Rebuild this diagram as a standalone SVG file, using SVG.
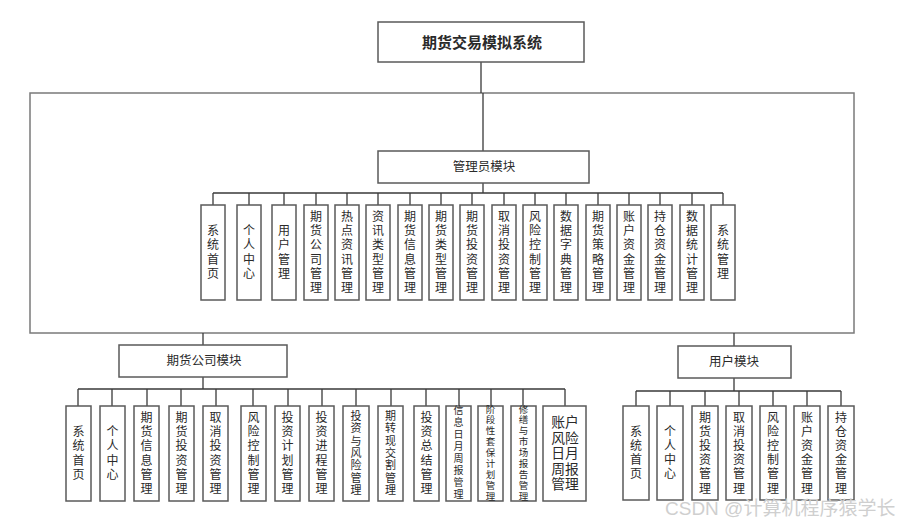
<svg xmlns="http://www.w3.org/2000/svg" width="903" height="524" viewBox="0 0 903 524">
<style>
.bx{fill:#fff;stroke:#5a5a5a;stroke-width:1.5}
.fr{fill:none;stroke:#7a7a7a;stroke-width:1.5}
.ln{fill:none;stroke:#3a3a3a;stroke-width:1.3}
text{font-family:"Liberation Sans","Noto Sans CJK SC",sans-serif;fill:#2a2a2a;text-anchor:middle;dominant-baseline:central}
.t1{font-size:15px;font-weight:600}
.t2{font-size:12.5px}
.c{font-size:12px}
.m{font-size:11px}
.s{font-size:10px}
.xs{font-size:9.5px}
.w{font-size:13.8px}
.wm{font-size:19px;fill:#cfcfcf;text-anchor:start}
</style>
<rect class="fr" x="30" y="93" width="824" height="240"/>
<g id="connectors">
<path class="ln" d="M481 62V93M483 93V151M483 183V193M213 193H723M213 193V205M249 193V205M284 193V205M316 193V205M347 193V205M378 193V205M410 193V205M441 193V205M472 193V205M504 193V205M535 193V205M566 193V205M598 193V205M629 193V205M660 193V205M692 193V205M723 193V205"/>
<path class="ln" d="M203 333V345M203 377V389M78 389H565M78 389V406M112 389V406M147 389V406M181 389V406M216 389V406M253 389V406M288 389V406M322 389V406M356 389V406M391 389V406M426 389V406M459 389V406M491 389V406M523 389V406M565 389V406"/>
<path class="ln" d="M734 333V346M734 378V391M636 391H841M636 391V406M670 391V406M705 391V406M739 391V406M773 391V406M807 391V406M841 391V406"/>
</g>
<g id="root"><rect class="bx" x="378" y="22" width="206" height="40"/><text class="t1" x="482" y="42">期货交易模拟系统</text></g>
<g id="admin"><rect class="bx" x="378" y="151" width="211" height="32"/><text class="t2" x="484" y="167">管理员模块</text></g>
<g id="company"><rect class="bx" x="119" y="345" width="168" height="32"/><text class="t2" x="204" y="361">期货公司模块</text></g>
<g id="user"><rect class="bx" x="678" y="346" width="113" height="32"/><text class="t2" x="734" y="362">用户模块</text></g>

<g id="a1"><rect class="bx" x="201" y="205" width="24" height="95"/><text class="c"><tspan x="213" y="231.2">系</tspan><tspan x="213" y="245.4">统</tspan><tspan x="213" y="259.6">首</tspan><tspan x="213" y="273.8">页</tspan></text></g>
<g id="a2"><rect class="bx" x="237" y="205" width="24" height="95"/><text class="c"><tspan x="249" y="231.2">个</tspan><tspan x="249" y="245.4">人</tspan><tspan x="249" y="259.6">中</tspan><tspan x="249" y="273.8">心</tspan></text></g>
<g id="a3"><rect class="bx" x="272" y="205" width="24" height="95"/><text class="c"><tspan x="284" y="231.2">用</tspan><tspan x="284" y="245.4">户</tspan><tspan x="284" y="259.6">管</tspan><tspan x="284" y="273.8">理</tspan></text></g>
<g id="a4"><rect class="bx" x="304" y="205" width="24" height="95"/><text class="c"><tspan x="316" y="217">期</tspan><tspan x="316" y="231.2">货</tspan><tspan x="316" y="245.4">公</tspan><tspan x="316" y="259.6">司</tspan><tspan x="316" y="273.8">管</tspan><tspan x="316" y="288">理</tspan></text></g>
<g id="a5"><rect class="bx" x="335" y="205" width="24" height="95"/><text class="c"><tspan x="347" y="217">热</tspan><tspan x="347" y="231.2">点</tspan><tspan x="347" y="245.4">资</tspan><tspan x="347" y="259.6">讯</tspan><tspan x="347" y="273.8">管</tspan><tspan x="347" y="288">理</tspan></text></g>
<g id="a6"><rect class="bx" x="366" y="205" width="24" height="95"/><text class="c"><tspan x="378" y="217">资</tspan><tspan x="378" y="231.2">讯</tspan><tspan x="378" y="245.4">类</tspan><tspan x="378" y="259.6">型</tspan><tspan x="378" y="273.8">管</tspan><tspan x="378" y="288">理</tspan></text></g>
<g id="a7"><rect class="bx" x="398" y="205" width="24" height="95"/><text class="c"><tspan x="410" y="217">期</tspan><tspan x="410" y="231.2">货</tspan><tspan x="410" y="245.4">信</tspan><tspan x="410" y="259.6">息</tspan><tspan x="410" y="273.8">管</tspan><tspan x="410" y="288">理</tspan></text></g>
<g id="a8"><rect class="bx" x="429" y="205" width="24" height="95"/><text class="c"><tspan x="441" y="217">期</tspan><tspan x="441" y="231.2">货</tspan><tspan x="441" y="245.4">类</tspan><tspan x="441" y="259.6">型</tspan><tspan x="441" y="273.8">管</tspan><tspan x="441" y="288">理</tspan></text></g>
<g id="a9"><rect class="bx" x="460" y="205" width="24" height="95"/><text class="c"><tspan x="472" y="217">期</tspan><tspan x="472" y="231.2">货</tspan><tspan x="472" y="245.4">投</tspan><tspan x="472" y="259.6">资</tspan><tspan x="472" y="273.8">管</tspan><tspan x="472" y="288">理</tspan></text></g>
<g id="a10"><rect class="bx" x="492" y="205" width="24" height="95"/><text class="c"><tspan x="504" y="217">取</tspan><tspan x="504" y="231.2">消</tspan><tspan x="504" y="245.4">投</tspan><tspan x="504" y="259.6">资</tspan><tspan x="504" y="273.8">管</tspan><tspan x="504" y="288">理</tspan></text></g>
<g id="a11"><rect class="bx" x="523" y="205" width="24" height="95"/><text class="c"><tspan x="535" y="217">风</tspan><tspan x="535" y="231.2">险</tspan><tspan x="535" y="245.4">控</tspan><tspan x="535" y="259.6">制</tspan><tspan x="535" y="273.8">管</tspan><tspan x="535" y="288">理</tspan></text></g>
<g id="a12"><rect class="bx" x="554" y="205" width="24" height="95"/><text class="c"><tspan x="566" y="217">数</tspan><tspan x="566" y="231.2">据</tspan><tspan x="566" y="245.4">字</tspan><tspan x="566" y="259.6">典</tspan><tspan x="566" y="273.8">管</tspan><tspan x="566" y="288">理</tspan></text></g>
<g id="a13"><rect class="bx" x="586" y="205" width="24" height="95"/><text class="c"><tspan x="598" y="217">期</tspan><tspan x="598" y="231.2">货</tspan><tspan x="598" y="245.4">策</tspan><tspan x="598" y="259.6">略</tspan><tspan x="598" y="273.8">管</tspan><tspan x="598" y="288">理</tspan></text></g>
<g id="a14"><rect class="bx" x="617" y="205" width="24" height="95"/><text class="c"><tspan x="629" y="217">账</tspan><tspan x="629" y="231.2">户</tspan><tspan x="629" y="245.4">资</tspan><tspan x="629" y="259.6">金</tspan><tspan x="629" y="273.8">管</tspan><tspan x="629" y="288">理</tspan></text></g>
<g id="a15"><rect class="bx" x="648" y="205" width="24" height="95"/><text class="c"><tspan x="660" y="217">持</tspan><tspan x="660" y="231.2">仓</tspan><tspan x="660" y="245.4">资</tspan><tspan x="660" y="259.6">金</tspan><tspan x="660" y="273.8">管</tspan><tspan x="660" y="288">理</tspan></text></g>
<g id="a16"><rect class="bx" x="680" y="205" width="24" height="95"/><text class="c"><tspan x="692" y="217">数</tspan><tspan x="692" y="231.2">据</tspan><tspan x="692" y="245.4">统</tspan><tspan x="692" y="259.6">计</tspan><tspan x="692" y="273.8">管</tspan><tspan x="692" y="288">理</tspan></text></g>
<g id="a17"><rect class="bx" x="711" y="205" width="24" height="95"/><text class="c"><tspan x="723" y="231.2">系</tspan><tspan x="723" y="245.4">统</tspan><tspan x="723" y="259.6">管</tspan><tspan x="723" y="273.8">理</tspan></text></g>

<g id="c1"><rect class="bx" x="66" y="406" width="25" height="95"/><text class="c"><tspan x="78.5" y="432.2">系</tspan><tspan x="78.5" y="446.4">统</tspan><tspan x="78.5" y="460.6">首</tspan><tspan x="78.5" y="474.8">页</tspan></text></g>
<g id="c2"><rect class="bx" x="100" y="406" width="25" height="95"/><text class="c"><tspan x="112.5" y="432.2">个</tspan><tspan x="112.5" y="446.4">人</tspan><tspan x="112.5" y="460.6">中</tspan><tspan x="112.5" y="474.8">心</tspan></text></g>
<g id="c3"><rect class="bx" x="134" y="406" width="25" height="95"/><text class="c"><tspan x="146.5" y="418">期</tspan><tspan x="146.5" y="432.2">货</tspan><tspan x="146.5" y="446.4">信</tspan><tspan x="146.5" y="460.6">息</tspan><tspan x="146.5" y="474.8">管</tspan><tspan x="146.5" y="489">理</tspan></text></g>
<g id="c4"><rect class="bx" x="169" y="406" width="25" height="95"/><text class="c"><tspan x="181.5" y="418">期</tspan><tspan x="181.5" y="432.2">货</tspan><tspan x="181.5" y="446.4">投</tspan><tspan x="181.5" y="460.6">资</tspan><tspan x="181.5" y="474.8">管</tspan><tspan x="181.5" y="489">理</tspan></text></g>
<g id="c5"><rect class="bx" x="203" y="406" width="25" height="95"/><text class="c"><tspan x="215.5" y="418">取</tspan><tspan x="215.5" y="432.2">消</tspan><tspan x="215.5" y="446.4">投</tspan><tspan x="215.5" y="460.6">资</tspan><tspan x="215.5" y="474.8">管</tspan><tspan x="215.5" y="489">理</tspan></text></g>
<g id="c6"><rect class="bx" x="241" y="406" width="25" height="95"/><text class="c"><tspan x="253.5" y="418">风</tspan><tspan x="253.5" y="432.2">险</tspan><tspan x="253.5" y="446.4">控</tspan><tspan x="253.5" y="460.6">制</tspan><tspan x="253.5" y="474.8">管</tspan><tspan x="253.5" y="489">理</tspan></text></g>
<g id="c7"><rect class="bx" x="275" y="406" width="25" height="95"/><text class="c"><tspan x="287.5" y="418">投</tspan><tspan x="287.5" y="432.2">资</tspan><tspan x="287.5" y="446.4">计</tspan><tspan x="287.5" y="460.6">划</tspan><tspan x="287.5" y="474.8">管</tspan><tspan x="287.5" y="489">理</tspan></text></g>
<g id="c8"><rect class="bx" x="309" y="406" width="25" height="95"/><text class="c"><tspan x="321.5" y="418">投</tspan><tspan x="321.5" y="432.2">资</tspan><tspan x="321.5" y="446.4">进</tspan><tspan x="321.5" y="460.6">程</tspan><tspan x="321.5" y="474.8">管</tspan><tspan x="321.5" y="489">理</tspan></text></g>
<g id="c9"><rect class="bx" x="343" y="406" width="26" height="95"/><text class="m"><tspan x="356" y="416">投</tspan><tspan x="356" y="428.3">资</tspan><tspan x="356" y="440.6">与</tspan><tspan x="356" y="452.9">风</tspan><tspan x="356" y="465.2">险</tspan><tspan x="356" y="477.5">管</tspan><tspan x="356" y="489.8">理</tspan></text></g>
<g id="c10"><rect class="bx" x="378" y="406" width="25" height="95"/><text class="m"><tspan x="390.5" y="416">期</tspan><tspan x="390.5" y="428.3">转</tspan><tspan x="390.5" y="440.6">现</tspan><tspan x="390.5" y="452.9">交</tspan><tspan x="390.5" y="465.2">割</tspan><tspan x="390.5" y="477.5">管</tspan><tspan x="390.5" y="489.8">理</tspan></text></g>
<g id="c11"><rect class="bx" x="414" y="406" width="25" height="95"/><text class="c"><tspan x="426.5" y="418">投</tspan><tspan x="426.5" y="432.2">资</tspan><tspan x="426.5" y="446.4">总</tspan><tspan x="426.5" y="460.6">结</tspan><tspan x="426.5" y="474.8">管</tspan><tspan x="426.5" y="489">理</tspan></text></g>
<g id="c12"><rect class="bx" x="446" y="406" width="25" height="95"/><text class="s"><tspan x="458.5" y="410">信</tspan><tspan x="458.5" y="422">息</tspan><tspan x="458.5" y="434">日</tspan><tspan x="458.5" y="446">月</tspan><tspan x="458.5" y="458">周</tspan><tspan x="458.5" y="470">报</tspan><tspan x="458.5" y="482">管</tspan><tspan x="458.5" y="494">理</tspan></text></g>
<g id="c13"><rect class="bx" x="478" y="406" width="25" height="95"/><text class="xs"><tspan x="490.5" y="408.5">阶</tspan><tspan x="490.5" y="419.4">段</tspan><tspan x="490.5" y="430.3">性</tspan><tspan x="490.5" y="441.2">套</tspan><tspan x="490.5" y="452.1">保</tspan><tspan x="490.5" y="463">计</tspan><tspan x="490.5" y="473.9">划</tspan><tspan x="490.5" y="484.8">管</tspan><tspan x="490.5" y="495.7">理</tspan></text></g>
<g id="c14"><rect class="bx" x="511" y="406" width="25" height="95"/><text class="xs"><tspan x="523.5" y="408.5">修</tspan><tspan x="523.5" y="419.4">缮</tspan><tspan x="523.5" y="430.3">与</tspan><tspan x="523.5" y="441.2">市</tspan><tspan x="523.5" y="452.1">场</tspan><tspan x="523.5" y="463">报</tspan><tspan x="523.5" y="473.9">告</tspan><tspan x="523.5" y="484.8">管</tspan><tspan x="523.5" y="495.7">理</tspan></text></g>
<g id="c15"><rect class="bx" x="543" y="406" width="43" height="95"/><text class="w"><tspan x="565" y="422">账户</tspan><tspan x="565" y="437.5">风险</tspan><tspan x="565" y="453">日月</tspan><tspan x="565" y="468.5">周报</tspan><tspan x="565" y="484">管理</tspan></text></g>

<g id="u1"><rect class="bx" x="623" y="406" width="26" height="94"/><text class="c"><tspan x="636" y="431.7">系</tspan><tspan x="636" y="445.9">统</tspan><tspan x="636" y="460.1">首</tspan><tspan x="636" y="474.3">页</tspan></text></g>
<g id="u2"><rect class="bx" x="657" y="406" width="26" height="94"/><text class="c"><tspan x="670" y="431.7">个</tspan><tspan x="670" y="445.9">人</tspan><tspan x="670" y="460.1">中</tspan><tspan x="670" y="474.3">心</tspan></text></g>
<g id="u3"><rect class="bx" x="692" y="406" width="26" height="94"/><text class="c"><tspan x="705" y="417.5">期</tspan><tspan x="705" y="431.7">货</tspan><tspan x="705" y="445.9">投</tspan><tspan x="705" y="460.1">资</tspan><tspan x="705" y="474.3">管</tspan><tspan x="705" y="488.5">理</tspan></text></g>
<g id="u4"><rect class="bx" x="726" y="406" width="26" height="94"/><text class="c"><tspan x="739" y="417.5">取</tspan><tspan x="739" y="431.7">消</tspan><tspan x="739" y="445.9">投</tspan><tspan x="739" y="460.1">资</tspan><tspan x="739" y="474.3">管</tspan><tspan x="739" y="488.5">理</tspan></text></g>
<g id="u5"><rect class="bx" x="760" y="406" width="26" height="94"/><text class="c"><tspan x="773" y="417.5">风</tspan><tspan x="773" y="431.7">险</tspan><tspan x="773" y="445.9">控</tspan><tspan x="773" y="460.1">制</tspan><tspan x="773" y="474.3">管</tspan><tspan x="773" y="488.5">理</tspan></text></g>
<g id="u6"><rect class="bx" x="794" y="406" width="26" height="94"/><text class="c"><tspan x="807" y="417.5">账</tspan><tspan x="807" y="431.7">户</tspan><tspan x="807" y="445.9">资</tspan><tspan x="807" y="460.1">金</tspan><tspan x="807" y="474.3">管</tspan><tspan x="807" y="488.5">理</tspan></text></g>
<g id="u7"><rect class="bx" x="828" y="406" width="26" height="94"/><text class="c"><tspan x="841" y="417.5">持</tspan><tspan x="841" y="431.7">仓</tspan><tspan x="841" y="445.9">资</tspan><tspan x="841" y="460.1">金</tspan><tspan x="841" y="474.3">管</tspan><tspan x="841" y="488.5">理</tspan></text></g>

<text class="wm" x="665" y="508">CSDN @计算机程序猿学长</text>
</svg>
